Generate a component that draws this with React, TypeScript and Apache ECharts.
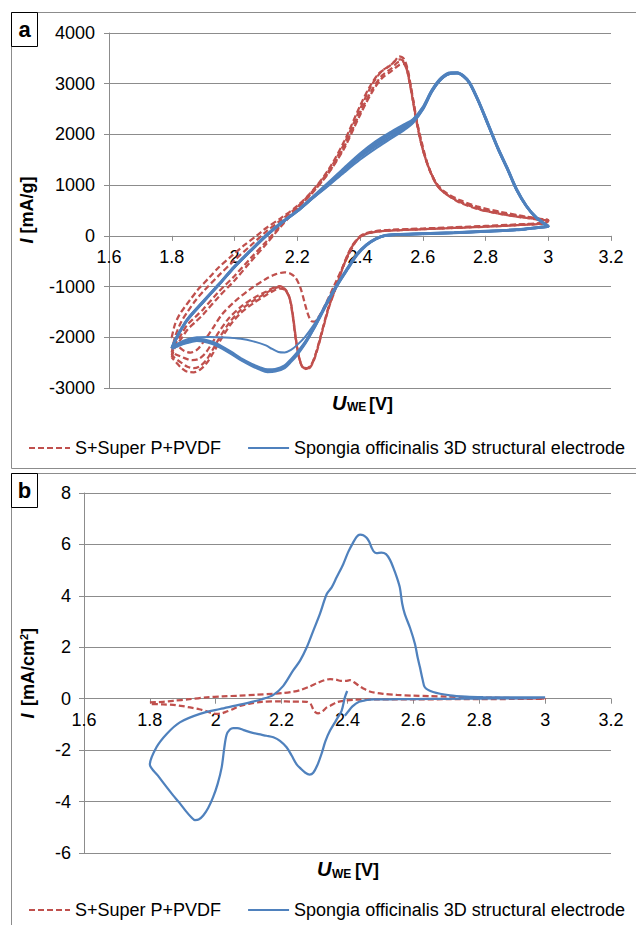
import React, { useEffect, useRef } from 'react';
import * as echarts from 'echarts';

const RED = '#C0504D';
const BLUE = '#4F81BD';
const GRID = '#8c8c8c';
const FONT = '"Liberation Sans", Arial, sans-serif';

const NAME_REF = 'S+Super P+PVDF';
const NAME_3D = 'Spongia officinalis 3D structural electrode';

// Panel a axes
const A_X = { min: 1.6, max: 3.2, step: 0.2 };
const A_Y = { min: -3000, max: 4000, step: 1000 };
// Panel b axes
const B_X = { min: 1.6, max: 3.2, step: 0.2 };
const B_Y = { min: -6, max: 8, step: 2 };

type P = [number, number];

// ---------- Panel a : S+Super P+PVDF (4 cycles) ----------
const redA1: P[] = [
  [1.80,-2000],[1.81,-1750],[1.825,-1550],[1.842,-1400],[1.86,-1250],[1.885,-1050],[1.92,-820],[1.95,-620],[1.99,-400],[2.03,-190],[2.07,0],[2.10,150],[2.15,360],[2.20,590],[2.25,900],[2.30,1310],[2.35,1870],[2.40,2560],[2.43,2930],[2.46,3200],[2.49,3330],[2.51,3440],[2.525,3540],[2.54,3490],[2.552,3280],[2.562,2950],[2.572,2600],[2.582,2240],[2.597,1840],[2.617,1390],[2.642,1050],[2.672,860],[2.72,700],[2.78,570],[2.85,470],[2.92,390],[2.97,340],[3.00,310],
  [2.99,260],[2.90,225],[2.80,195],[2.70,170],[2.60,145],[2.50,120],[2.45,95],[2.42,55],[2.40,-10],[2.38,-180],[2.35,-550],[2.32,-950],[2.29,-1350],[2.27,-1580],[2.255,-1690],[2.245,-1680],[2.235,-1560],[2.225,-1350],[2.21,-1020],[2.195,-830],[2.18,-750],[2.16,-720],[2.13,-760],[2.10,-850],[2.05,-1050],[2.00,-1300],[1.96,-1550],[1.93,-1830],[1.90,-2100],[1.88,-2250],[1.86,-2300],[1.84,-2270],[1.82,-2170],[1.80,-2000]
];
const redA2: P[] = [
  [1.80,-2300],[1.81,-2000],[1.83,-1700],[1.85,-1500],[1.875,-1280],[1.90,-1100],[1.95,-780],[2.00,-480],[2.05,-200],[2.10,80],[2.15,320],[2.20,570],[2.25,890],[2.30,1280],[2.35,1820],[2.40,2500],[2.44,3000],[2.47,3250],[2.50,3380],[2.515,3460],[2.53,3480],[2.545,3380],[2.555,3150],[2.565,2820],[2.575,2450],[2.587,2080],[2.60,1720],[2.62,1320],[2.645,1000],[2.675,820],[2.72,670],[2.78,545],[2.85,450],[2.92,380],[2.97,335],[3.00,305],
  [2.99,255],[2.90,215],[2.80,185],[2.70,160],[2.60,135],[2.50,110],[2.45,85],[2.42,45],[2.40,-20],[2.38,-150],[2.36,-380],[2.34,-700],[2.32,-1050],[2.30,-1400],[2.28,-1850],[2.26,-2300],[2.245,-2540],[2.23,-2610],[2.215,-2560],[2.205,-2380],[2.195,-2030],[2.185,-1560],[2.175,-1220],[2.16,-1050],[2.145,-990],[2.125,-1020],[2.10,-1100],[2.06,-1230],[2.02,-1400],[1.98,-1640],[1.95,-1900],[1.925,-2150],[1.905,-2330],[1.885,-2430],[1.865,-2450],[1.845,-2420],[1.825,-2370],[1.81,-2330],[1.80,-2300]
];
const redA3: P[] = [
  [1.80,-2350],[1.81,-2150],[1.83,-1950],[1.85,-1750],[1.875,-1600],[1.90,-1450],[1.95,-1100],[2.00,-790],[2.05,-450],[2.10,-120],[2.15,220],[2.20,550],[2.25,870],[2.30,1250],[2.35,1760],[2.40,2420],[2.44,2900],[2.47,3160],[2.50,3300],[2.52,3420],[2.535,3440],[2.548,3300],[2.558,3020],[2.568,2680],[2.578,2320],[2.59,1950],[2.605,1600],[2.625,1260],[2.65,960],[2.68,800],[2.72,650],[2.78,520],[2.85,430],[2.92,360],[2.97,320],[3.00,290],
  [2.99,245],[2.90,210],[2.80,180],[2.70,155],[2.60,130],[2.50,105],[2.45,80],[2.42,40],[2.40,-25],[2.38,-160],[2.36,-400],[2.34,-720],[2.32,-1080],[2.30,-1430],[2.28,-1880],[2.26,-2330],[2.245,-2560],[2.232,-2630],[2.218,-2590],[2.207,-2420],[2.197,-2080],[2.187,-1600],[2.177,-1250],[2.163,-1060],[2.145,-1010],[2.125,-1040],[2.10,-1130],[2.06,-1280],[2.02,-1460],[1.985,-1700],[1.955,-1980],[1.93,-2250],[1.91,-2450],[1.89,-2570],[1.87,-2610],[1.85,-2580],[1.83,-2500],[1.81,-2410],[1.80,-2350]
];
const redA4: P[] = [
  [1.80,-2400],[1.81,-2200],[1.83,-2030],[1.85,-1850],[1.875,-1700],[1.90,-1550],[1.95,-1200],[2.00,-880],[2.05,-520],[2.10,-170],[2.15,200],[2.20,540],[2.25,860],[2.30,1240],[2.35,1730],[2.40,2380],[2.44,2850],[2.47,3110],[2.50,3250],[2.525,3370],[2.538,3390],[2.55,3260],[2.56,2980],[2.57,2640],[2.58,2280],[2.592,1900],[2.607,1560],[2.627,1230],[2.652,950],[2.685,790],[2.73,640],[2.79,510],[2.86,420],[2.93,355],[2.97,325],[3.00,295],
  [2.99,250],[2.90,212],[2.80,183],[2.70,157],[2.60,132],[2.50,107],[2.45,82],[2.42,42],[2.40,-22],[2.38,-155],[2.36,-390],[2.34,-710],[2.32,-1065],[2.30,-1415],[2.28,-1865],[2.26,-2310],[2.245,-2550],[2.23,-2625],[2.216,-2585],[2.206,-2410],[2.196,-2060],[2.186,-1580],[2.176,-1240],[2.162,-1070],[2.145,-1040],[2.125,-1080],[2.10,-1170],[2.06,-1330],[2.02,-1520],[1.985,-1770],[1.955,-2060],[1.93,-2330],[1.91,-2520],[1.89,-2640],[1.87,-2690],[1.85,-2680],[1.83,-2600],[1.815,-2500],[1.80,-2400]
];

// ---------- Panel a : Spongia officinalis 3D electrode (4 cycles) ----------
const blueA1: P[] = [
  [1.80,-2200],[1.82,-1950],[1.85,-1660],[1.90,-1310],[1.95,-970],[2.00,-620],[2.05,-310],[2.10,-10],[2.15,250],[2.20,480],[2.25,740],[2.30,990],[2.35,1250],[2.40,1500],[2.45,1720],[2.50,1920],[2.54,2080],[2.57,2230],[2.60,2480],[2.63,2840],[2.66,3090],[2.69,3195],[2.71,3200],[2.73,3140],[2.75,3000],[2.78,2610],[2.81,2160],[2.84,1710],[2.87,1310],[2.90,890],[2.93,585],[2.96,365],[2.985,245],[3.00,185],
  [2.99,172],[2.95,148],[2.90,116],[2.80,86],[2.70,58],[2.60,38],[2.52,23],[2.48,3],[2.45,-62],[2.42,-182],[2.39,-372],[2.36,-652],[2.33,-942],[2.30,-1262],[2.28,-1480],[2.25,-1780],[2.225,-1990],[2.20,-2150],[2.18,-2250],[2.16,-2300],[2.14,-2290],[2.12,-2230],[2.10,-2160],[2.06,-2080],[2.02,-2030],[1.97,-2005],[1.92,-1995],[1.88,-2000],[1.85,-2040],[1.82,-2120],[1.80,-2200]
];
const blueA2: P[] = [
  [1.80,-2215],[1.82,-1955],[1.85,-1655],[1.90,-1305],[1.95,-965],[2.00,-615],[2.05,-305],[2.10,-5],[2.15,255],[2.20,485],[2.25,750],[2.30,1010],[2.35,1280],[2.40,1550],[2.45,1770],[2.50,1960],[2.54,2120],[2.57,2260],[2.60,2500],[2.63,2860],[2.66,3100],[2.69,3205],[2.71,3210],[2.73,3145],[2.75,3005],[2.78,2615],[2.81,2165],[2.84,1715],[2.87,1315],[2.90,895],[2.93,588],[2.96,368],[2.985,248],[3.00,188],
  [2.99,175],[2.95,150],[2.90,118],[2.80,88],[2.70,60],[2.60,40],[2.52,25],[2.48,5],[2.45,-60],[2.42,-180],[2.39,-370],[2.36,-650],[2.33,-940],[2.30,-1260],[2.28,-1500],[2.25,-1850],[2.225,-2110],[2.20,-2320],[2.18,-2460],[2.16,-2580],[2.13,-2650],[2.105,-2660],[2.08,-2610],[2.055,-2545],[2.02,-2430],[1.99,-2310],[1.96,-2200],[1.93,-2110],[1.90,-2060],[1.88,-2050],[1.86,-2075],[1.84,-2110],[1.82,-2160],[1.80,-2215]
];
const blueA3: P[] = [
  [1.80,-2210],[1.82,-1950],[1.85,-1650],[1.90,-1300],[1.95,-960],[2.00,-610],[2.05,-300],[2.10,0],[2.15,260],[2.20,490],[2.25,760],[2.30,1030],[2.35,1310],[2.40,1590],[2.45,1820],[2.50,2010],[2.54,2160],[2.57,2290],[2.60,2520],[2.63,2870],[2.66,3110],[2.69,3210],[2.71,3215],[2.73,3150],[2.75,3010],[2.78,2620],[2.81,2170],[2.84,1720],[2.87,1320],[2.90,900],[2.93,590],[2.96,370],[2.985,250],[3.00,190],
  [2.99,178],[2.95,153],[2.90,121],[2.80,90],[2.70,62],[2.60,42],[2.52,27],[2.48,7],[2.45,-55],[2.42,-175],[2.39,-360],[2.36,-640],[2.33,-930],[2.30,-1250],[2.28,-1490],[2.25,-1840],[2.225,-2100],[2.20,-2300],[2.18,-2440],[2.16,-2560],[2.13,-2630],[2.105,-2640],[2.08,-2595],[2.055,-2530],[2.02,-2415],[1.99,-2295],[1.96,-2185],[1.93,-2095],[1.90,-2045],[1.88,-2035],[1.86,-2060],[1.84,-2100],[1.82,-2150],[1.80,-2210]
];
const blueA4: P[] = [
  [1.80,-2220],[1.82,-1960],[1.85,-1645],[1.90,-1295],[1.95,-955],[2.00,-605],[2.05,-295],[2.10,5],[2.15,265],[2.20,495],[2.25,770],[2.30,1050],[2.35,1340],[2.40,1620],[2.45,1860],[2.50,2050],[2.54,2190],[2.57,2300],[2.60,2530],[2.63,2880],[2.66,3120],[2.69,3220],[2.71,3220],[2.73,3155],[2.75,3015],[2.78,2630],[2.81,2180],[2.84,1730],[2.87,1330],[2.90,910],[2.93,595],[2.96,375],[2.985,255],[3.00,195],
  [2.99,180],[2.95,155],[2.90,123],[2.80,92],[2.70,64],[2.60,44],[2.52,29],[2.48,9],[2.45,-65],[2.42,-190],[2.39,-380],[2.36,-660],[2.33,-950],[2.30,-1270],[2.28,-1510],[2.25,-1860],[2.225,-2125],[2.20,-2340],[2.18,-2480],[2.16,-2600],[2.13,-2670],[2.105,-2680],[2.08,-2630],[2.055,-2560],[2.02,-2445],[1.99,-2325],[1.96,-2215],[1.93,-2125],[1.90,-2075],[1.88,-2065],[1.86,-2090],[1.84,-2120],[1.82,-2170],[1.80,-2220]
];

// ---------- Panel b ----------
const redB: P[] = [
  [1.80,-0.14],[1.84,-0.12],[1.871,-0.08],[1.92,-0.02],[1.972,0.05],[2.02,0.09],[2.073,0.12],[2.12,0.15],[2.175,0.19],[2.205,0.22],[2.235,0.27],[2.256,0.33],[2.286,0.48],[2.31,0.62],[2.33,0.72],[2.347,0.76],[2.365,0.74],[2.38,0.69],[2.395,0.69],[2.407,0.72],[2.42,0.64],[2.435,0.50],[2.448,0.40],[2.47,0.27],[2.508,0.19],[2.55,0.15],[2.60,0.12],[2.65,0.10],[2.70,0.08],[2.761,0.06],[2.85,0.04],[2.93,0.02],[3.00,0.0],
  [2.90,-0.01],[2.80,-0.02],[2.70,-0.02],[2.60,-0.03],[2.50,-0.03],[2.42,-0.04],[2.387,-0.08],[2.367,-0.14],[2.347,-0.28],[2.337,-0.34],[2.325,-0.48],[2.311,-0.57],[2.302,-0.52],[2.296,-0.42],[2.288,-0.20],[2.276,-0.12],[2.23,-0.11],[2.195,-0.10],[2.14,-0.12],[2.10,-0.20],[2.073,-0.28],[2.053,-0.40],[2.033,-0.50],[2.018,-0.57],[2.003,-0.59],[1.985,-0.55],[1.972,-0.49],[1.95,-0.41],[1.922,-0.34],[1.90,-0.29],[1.871,-0.24],[1.84,-0.22],[1.80,-0.21]
];
const blueB: P[] = [
  [2.399,0.3],[2.392,0.05],[2.382,-0.47],[2.365,-0.85],[2.347,-1.24],[2.333,-1.65],[2.321,-2.15],[2.308,-2.6],[2.296,-2.88],[2.285,-2.95],[2.272,-2.88],[2.258,-2.72],[2.245,-2.54],[2.23,-2.2],[2.215,-1.89],[2.195,-1.64],[2.175,-1.50],[2.154,-1.44],[2.13,-1.38],[2.104,-1.30],[2.085,-1.22],[2.065,-1.14],[2.053,-1.14],[2.043,-1.2],[2.033,-1.40],[2.026,-1.9],[2.018,-2.67],[2.006,-3.3],[1.992,-3.83],[1.977,-4.25],[1.962,-4.54],[1.948,-4.70],[1.937,-4.72],[1.925,-4.6],[1.91,-4.38],[1.89,-4.05],[1.87,-3.75],[1.851,-3.44],[1.825,-3.0],[1.80,-2.56],
  [1.82,-1.89],[1.851,-1.37],[1.891,-0.92],[1.952,-0.59],[2.013,-0.40],[2.06,-0.27],[2.104,-0.14],[2.14,-0.02],[2.175,0.15],[2.205,0.5],[2.235,1.1],[2.256,1.48],[2.276,1.99],[2.296,2.64],[2.316,3.29],[2.337,4.07],[2.352,4.33],[2.367,4.72],[2.387,5.23],[2.402,5.7],[2.417,6.07],[2.428,6.3],[2.438,6.38],[2.448,6.36],[2.458,6.26],[2.466,6.1],[2.473,5.88],[2.48,5.72],[2.488,5.66],[2.503,5.68],[2.517,5.62],[2.529,5.4],[2.539,5.10],[2.549,4.75],[2.559,4.32],[2.566,3.7],[2.574,3.29],[2.59,2.75],[2.605,2.12],[2.613,1.6],[2.62,1.22],[2.628,0.75],[2.635,0.44],[2.66,0.26],[2.711,0.13],[2.76,0.08],[2.812,0.06],[2.90,0.05],[3.00,0.05],
  [2.95,0.02],[2.85,0.01],[2.75,0.0],[2.65,-0.01],[2.55,-0.02],[2.48,-0.03],[2.455,-0.06],[2.435,-0.12],[2.415,-0.3],[2.402,-0.5],[2.392,-0.66]
];

const GRID_A = { left: 109, right: 25, top: 33, height: 355 };
const GRID_B = { left: 84, right: 25, top: 493, height: 360 };

const line = (name: string, data: P[], idx: number, color: string, width: number, dashed: boolean) => ({
  type: 'line',
  name,
  data,
  xAxisIndex: idx,
  yAxisIndex: idx,
  symbol: 'none',
  showSymbol: false,
  smooth: 0.3,
  silent: true,
  z: dashed ? 2 : 3,
  lineStyle: { color, width, type: dashed ? [6, 3] : 'solid', cap: 'butt' },
  itemStyle: { color },
  emphasis: { disabled: true },
});

// x axis drawn through y = 0 (offset from the grid bottom computed from the y range)
const xAxis = (gridIndex: number, r: { min: number; max: number; step: number }, yr: { min: number; max: number }, h: number) => ({
  type: 'value',
  gridIndex,
  min: r.min,
  max: r.max,
  interval: r.step,
  position: 'bottom',
  offset: -(h * (0 - yr.min)) / (yr.max - yr.min),
  axisLine: { show: true, onZero: false, lineStyle: { color: GRID, width: 1 } },
  axisTick: { show: true, inside: false, length: 5, lineStyle: { color: GRID } },
  axisLabel: {
    color: '#000',
    fontSize: 18,
    fontFamily: FONT,
    margin: 12,
    formatter: (v: number) => String(+v.toFixed(1)),
  },
  splitLine: { show: false },
});

const yAxis = (gridIndex: number, r: { min: number; max: number; step: number }, margin: number) => ({
  type: 'value',
  gridIndex,
  min: r.min,
  max: r.max,
  interval: r.step,
  axisLine: { show: true, onZero: false, lineStyle: { color: GRID, width: 1 } },
  axisTick: { show: true, inside: false, length: 5, lineStyle: { color: GRID } },
  axisLabel: {
    color: '#000',
    fontSize: 18,
    fontFamily: FONT,
    margin,
    formatter: (v: number) => String(+v.toFixed(1)),
  },
  splitLine: { show: true, lineStyle: { color: GRID, width: 1 } },
});

const legend = (top: number) => ({
  data: [NAME_REF, NAME_3D],
  left: 23,
  top,
  orient: 'horizontal',
  itemWidth: 41,
  itemHeight: 14,
  itemGap: 26,
  selectedMode: false,
  itemStyle: { opacity: 0, borderWidth: 0 },
  textStyle: { color: '#000', fontSize: 18, fontFamily: FONT },
});

const txt = (text: string, x: number, y: number, font: string, rot = 0, align = 'left') => ({
  type: 'text',
  x,
  y,
  rotation: rot,
  z: 50,
  style: {
    text,
    font,
    fill: '#000',
    align,
    verticalAlign: 'middle',
    textAlign: align,
    textVerticalAlign: 'middle',
  },
});

const B18 = `bold 18px ${FONT}`;
const BI18 = `italic bold 18px ${FONT}`;
const BI20 = `italic bold 20px ${FONT}`;
const B12 = `bold 12px ${FONT}`;
const B11 = `bold 11px ${FONT}`;
const R90 = Math.PI / 2;

const labelBox = (letter: string, y: number) => [
  {
    type: 'rect',
    z: 60,
    shape: { x: 11.5, y: y + 0.5, width: 26, height: 34 },
    style: { fill: '#fff', stroke: '#000', lineWidth: 1 },
  },
  {
    type: 'text',
    z: 61,
    x: 24.5,
    y: y + 17.5,
    style: {
      text: letter,
      font: `bold 22px ${FONT}`,
      fill: '#000',
      align: 'center',
      verticalAlign: 'middle',
      textAlign: 'center',
      textVerticalAlign: 'middle',
    },
  },
];

const option = {
  animation: false,
  textStyle: { fontFamily: FONT },
  grid: [GRID_A, GRID_B],
  xAxis: [xAxis(0, A_X, A_Y, GRID_A.height), xAxis(1, B_X, B_Y, GRID_B.height)],
  yAxis: [yAxis(0, A_Y, 14), yAxis(1, B_Y, 13)],
  legend: [legend(434), legend(896)],
  series: [
    line(NAME_REF, redA1, 0, RED, 2.25, true),
    line(NAME_REF, redA2, 0, RED, 2.25, true),
    line(NAME_REF, redA3, 0, RED, 2.25, true),
    line(NAME_REF, redA4, 0, RED, 2.25, true),
    line(NAME_3D, blueA1, 0, BLUE, 2, false),
    line(NAME_3D, blueA2, 0, BLUE, 2.75, false),
    line(NAME_3D, blueA3, 0, BLUE, 2.75, false),
    line(NAME_3D, blueA4, 0, BLUE, 2.75, false),
    line(NAME_REF, redB, 1, RED, 2.25, true),
    line(NAME_3D, blueB, 1, BLUE, 2.25, false),
  ],
  graphic: [
    {
      type: 'rect',
      z: 1,
      shape: { x: 11.5, y: 12.5, width: 640, height: 456 },
      style: { fill: 'none', stroke: GRID, lineWidth: 1 },
    },
    {
      type: 'rect',
      z: 1,
      shape: { x: 11.5, y: 473.5, width: 640, height: 470 },
      style: { fill: 'none', stroke: GRID, lineWidth: 1 },
    },
    ...labelBox('a', 12),
    ...labelBox('b', 473),
    // panel a axis titles
    txt('I', 27, 241, BI18, R90, 'center'),
    txt('[mA/g]', 27, 205, B18, R90, 'center'),
    txt('U', 332, 403, BI20),
    txt('WE', 347, 407, B12),
    txt('[V]', 369, 403.7, B18),
    // panel b axis titles
    txt('I', 28, 716, BI18, R90, 'center'),
    txt('[mA/cm', 28, 673, B18, R90, 'center'),
    txt('2', 23.5, 637, B11, R90, 'center'),
    txt(']', 28, 631, B18, R90, 'center'),
    txt('U', 317, 869, BI20),
    txt('WE', 332, 874, B12),
    txt('[V]', 355, 869.7, B18),
  ],
};

export default function App() {
  const ref = useRef<HTMLDivElement>(null);
  useEffect(() => {
    document.body.style.margin = '0';
    const chart = echarts.init(ref.current as HTMLDivElement, undefined, { renderer: 'svg' });
    chart.setOption(option as any);
    return () => {
      chart.dispose();
    };
  }, []);
  return <div ref={ref} style={{ width: 636, height: 925 }} />;
}
